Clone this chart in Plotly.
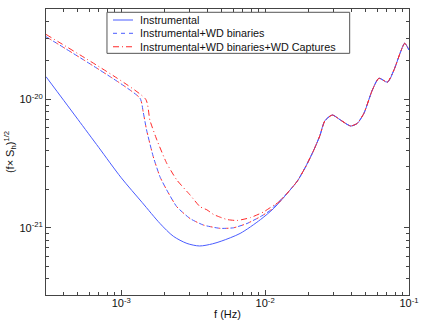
import plotly.graph_objects as go

# Instrumental noise
f_inst = [3e-4, 4e-4, 5e-4, 7e-4, 1e-3, 1.4e-3, 1.86e-3, 2.3e-3, 2.86e-3, 3.5e-3,
          4.3e-3, 5e-3, 6.7e-3, 9.3e-3, 1.15e-2, 1.42e-2, 1.67e-2, 1.91e-2, 2.18e-2,
          2.4e-2, 2.6e-2, 2.93e-2, 3.34e-2, 3.93e-2, 4.37e-2, 4.86e-2, 5.56e-2,
          6.18e-2, 7.08e-2, 7.86e-2, 8.75e-2, 9.33e-2, 0.1]
h_inst = [1.5e-20, 9.75e-21, 6.97e-21, 4.2e-21, 2.45e-21, 1.57e-21, 1.08e-21, 8.6e-22,
          7.56e-22, 7.22e-22, 7.5e-22, 7.9e-22, 9.04e-22, 1.16e-21, 1.42e-21, 1.85e-21,
          2.3e-21, 2.98e-21, 4.03e-21, 5.2e-21, 6.8e-21, 7.55e-21, 6.9e-21, 6.2e-21,
          6.5e-21, 7.78e-21, 1.18e-20, 1.46e-20, 1.36e-20, 1.69e-20, 2.35e-20, 2.73e-20,
          2.42e-20]

# Instrumental + WD binaries
f_bin = [3e-4, 1.35e-3, 1.42e-3, 1.5e-3, 1.67e-3, 1.86e-3, 2.07e-3, 2.43e-3, 3.01e-3,
         3.73e-3, 4.87e-3, 6.03e-3, 7.48e-3, 9.26e-3, 1.09e-2, 1.21e-2, 1.42e-2,
         1.67e-2, 1.91e-2, 2.18e-2, 2.4e-2, 2.6e-2, 2.93e-2, 3.34e-2, 3.93e-2,
         4.37e-2, 4.86e-2, 5.56e-2, 6.18e-2, 7.08e-2, 7.86e-2, 8.75e-2, 9.33e-2, 0.1]
h_bin = [3.07e-20, 1.02e-20, 8.0e-21, 5.77e-21, 3.57e-21, 2.49e-21, 1.97e-21, 1.46e-21,
         1.18e-21, 1.05e-21, 9.9e-22, 1.0e-21, 1.08e-21, 1.22e-21, 1.37e-21, 1.55e-21,
         1.85e-21, 2.3e-21, 2.98e-21, 4.03e-21, 5.2e-21, 6.8e-21, 7.55e-21, 6.9e-21,
         6.2e-21, 6.5e-21, 7.78e-21, 1.18e-20, 1.46e-20, 1.36e-20, 1.69e-20, 2.35e-20,
         2.73e-20, 2.42e-20]

# Instrumental + WD binaries + WD captures
f_cap = [3e-4, 1.48e-3, 1.58e-3, 1.77e-3, 2.07e-3, 2.43e-3, 3.01e-3, 3.53e-3, 3.94e-3,
         4.38e-3, 4.87e-3, 5.43e-3, 6.37e-3, 7.89e-3, 9.77e-3, 1.15e-2, 1.3e-2, 1.42e-2,
         1.67e-2, 1.91e-2, 2.18e-2, 2.4e-2, 2.6e-2, 2.93e-2, 3.34e-2, 3.93e-2,
         4.37e-2, 4.86e-2, 5.56e-2, 6.18e-2, 7.08e-2, 7.86e-2, 8.75e-2, 9.33e-2, 0.1]
h_cap = [3.2e-20, 1.0e-20, 6.9e-21, 4.82e-21, 3.18e-21, 2.36e-21, 1.8e-21, 1.46e-21,
         1.38e-21, 1.27e-21, 1.21e-21, 1.16e-21, 1.14e-21, 1.2e-21, 1.33e-21, 1.5e-21,
         1.64e-21, 1.85e-21, 2.3e-21, 2.98e-21, 4.03e-21, 5.2e-21, 6.8e-21, 7.55e-21,
         6.9e-21, 6.2e-21, 6.5e-21, 7.78e-21, 1.18e-20, 1.46e-20, 1.36e-20, 1.69e-20,
         2.35e-20, 2.73e-20, 2.42e-20]

names = ["Instrumental", "Instrumental+WD binaries", "Instrumental+WD binaries+WD Captures"]

x_ticks = [1e-3, 1e-2, 1e-1]
x_labels = ["10<sup>-3</sup>", "10<sup>-2</sup>", "10<sup>-1</sup>"]
y_ticks = [1e-21, 1e-20]
y_labels = ["10<sup>-21</sup>", "10<sup>-20</sup>"]

x_minor = [m * 10.0 ** e for e in (-4, -3, -2) for m in range(2, 10)]
y_minor = [m * 10.0 ** e for e in (-22, -21, -20) for m in range(2, 10)]

BLUE = "#4a5cff"
RED = "#ff2a2a"
FONT = "Liberation Sans, Arial"

styles = [
    dict(color=BLUE, width=1, dash="solid"),
    dict(color=BLUE, width=1, dash="4px,4px"),
    dict(color=RED, width=1, dash="6px,3px,1px,3px"),
]

fig = go.Figure()
fig.add_trace(go.Scatter(x=f_inst, y=h_inst, mode="lines", name=names[0],
                         line=dict(styles[0], shape="spline", smoothing=0.8)))
fig.add_trace(go.Scatter(x=f_bin, y=h_bin, mode="lines", name=names[1],
                         line=dict(styles[1], shape="spline", smoothing=0.5)))
# red dashes interleaved on the binaries curve (as in the picture)
fig.add_trace(go.Scatter(x=f_bin, y=h_bin, mode="lines", hoverinfo="skip",
                         line=dict(color=RED, width=1, dash="0px,4px,2px,2px",
                                   shape="spline", smoothing=0.5)))
fig.add_trace(go.Scatter(x=f_cap, y=h_cap, mode="lines", name=names[2],
                         line=dict(styles[2], shape="spline", smoothing=0.5)))

# compact boxed legend, drawn in paper coordinates
fig.add_shape(type="rect", xref="paper", yref="paper", x0=0.168, x1=0.8366,
              y0=0.845, y1=0.9885, fillcolor="white", line=dict(color="#555", width=1),
              layer="above")
row_y = [0.9615, 0.915, 0.868]
for name, st, yy in zip(names, styles, row_y):
    fig.add_shape(type="line", xref="paper", yref="paper", x0=0.1846, x1=0.2397,
                  y0=yy, y1=yy, line=st, layer="above")
    fig.add_annotation(text=name, xref="paper", yref="paper", x=0.2543, y=yy,
                       xanchor="left", yanchor="middle", showarrow=False,
                       font=dict(family=FONT, size=10.8, color="#111"))

axis_common = dict(type="log", showgrid=False, zeroline=False, showline=True,
                   linecolor="#444", linewidth=1, mirror="allticks", automargin=False,
                   ticks="inside", ticklen=5, tickcolor="#444",
                   tickfont=dict(family=FONT, size=11, color="#111"))

fig.update_layout(
    width=423, height=327,
    margin=dict(l=46, r=14, t=9, b=32, autoexpand=False),
    paper_bgcolor="white", plot_bgcolor="white",
    font=dict(family=FONT, size=11, color="#111"),
    hovermode=False,
    xaxis=dict(axis_common, range=[-3.523, -1.0], tickmode="array",
               tickvals=x_ticks, ticktext=x_labels, ticklabelstandoff=-2,
               minor=dict(tickmode="array", tickvals=x_minor, ticks="inside",
                          ticklen=3, tickcolor="#444"),
               title=dict(text="f (Hz)", standoff=2, font=dict(size=11))),
    yaxis=dict(axis_common, range=[-21.523, -19.297], tickmode="array",
               tickvals=y_ticks, ticktext=y_labels,
               minor=dict(tickmode="array", tickvals=y_minor, ticks="inside",
                          ticklen=3, tickcolor="#444"),
               title=dict(text="(f\u00d7 S<sub>h</sub>)<sup>1/2</sup>", standoff=2,
                          font=dict(size=11))),
    showlegend=False,
)

# the page's default body margin would shift the figure by 8px
fig.write_html("out.html", config={"displayModeBar": False},
               post_script="document.body.style.margin='0px';")
